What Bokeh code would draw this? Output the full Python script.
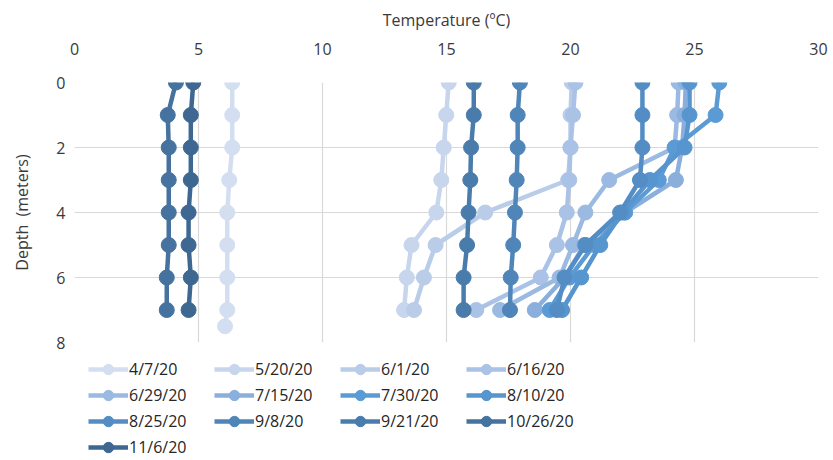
from bokeh.plotting import figure
from bokeh.models import Range1d, Legend, LegendItem, FixedTicker
from bokeh.layouts import column
from bokeh.embed import file_html
from bokeh.resources import INLINE

# ---- data ----
depth = [0, 1, 2, 3, 4, 5, 6, 7]
depth_apr = [0, 1, 2, 3, 4, 5, 6, 7, 7.5]

dates = ["4/7/20", "5/20/20", "6/1/20", "6/16/20", "6/29/20", "7/15/20", "7/30/20",
         "8/10/20", "8/25/20", "9/8/20", "9/21/20", "10/26/20", "11/6/20"]

t_0407 = [6.36, 6.36, 6.36, 6.24, 6.16, 6.16, 6.16, 6.16, 6.07]
t_0520 = [15.09, 14.99, 14.89, 14.79, 14.59, 13.59, 13.40, 13.29]
t_0601 = [20.05, 20.0, 20.0, 19.9, 16.56, 14.56, 14.09, 13.69]
t_0616 = [20.2, 20.1, 20.0, 19.95, 19.85, 19.45, 18.8, 16.2]
t_0629 = [24.36, 24.3, 24.2, 21.56, 20.6, 20.1, 19.56, 17.16]
t_0715 = [24.65, 24.6, 24.5, 24.25, 22.2, 20.56, 19.76, 18.56]
t_0730 = [26.0, 25.85, 24.2, 23.56, 22.2, 20.96, 19.96, 19.16]
t_0810 = [24.8, 24.8, 24.6, 23.2, 22.1, 21.2, 20.43, 19.66]
t_0825 = [22.9, 22.9, 22.9, 22.8, 22.0, 20.6, 19.76, 19.45]
t_0908 = [17.96, 17.87, 17.87, 17.83, 17.76, 17.69, 17.59, 17.56]
t_0921 = [16.1, 16.1, 15.99, 15.96, 15.89, 15.83, 15.69, 15.69]
t_1026 = [4.09, 3.76, 3.8, 3.8, 3.8, 3.8, 3.72, 3.72]
t_1106 = [4.79, 4.69, 4.69, 4.69, 4.6, 4.6, 4.69, 4.6]

temps = [t_0407, t_0520, t_0601, t_0616, t_0629, t_0715, t_0730,
         t_0810, t_0825, t_0908, t_0921, t_1026, t_1106]
depths = [depth_apr] + [depth] * 12

colors = ["#d3dff0", "#c7d6ec", "#b9cde9", "#a9c2e5", "#9bbae1", "#8aafdd", "#5b9bd5",
          "#5795cf", "#538dc4", "#4f85b8", "#4a7cab", "#45729f", "#3e6792"]

x_ticks = [0, 5, 10, 15, 20, 25, 30]
y_ticks = [0, 2, 4, 6, 8]

FONT = "Open Sans"
TXT = "#3a3a3a"
LW = 4.5
MS = 15

p = figure(width=833, height=352, x_range=Range1d(0, 30), y_range=Range1d(8, 0),
           x_axis_location="above", output_backend="svg", toolbar_location=None,
           min_border_left=74, min_border_right=15, min_border_top=82, min_border_bottom=10)
p.outline_line_color = None

p.xaxis.ticker = FixedTicker(ticks=x_ticks)
p.yaxis.ticker = FixedTicker(ticks=y_ticks)
for ax in (p.xaxis[0], p.yaxis[0]):
    ax.axis_line_color = None
    ax.major_tick_line_color = None
    ax.minor_tick_line_color = None
    ax.major_label_text_font = FONT
    ax.major_label_text_font_size = "16px"
    ax.major_label_text_color = TXT
    ax.axis_label_text_font = FONT
    ax.axis_label_text_font_size = "16px"
    ax.axis_label_text_font_style = "normal"
    ax.axis_label_text_color = TXT
p.xaxis.axis_label = "Temperature (\u00baC)"
p.yaxis.axis_label = "Depth\u00a0 (meters)"
p.xaxis.major_label_standoff = 22
p.xaxis.axis_label_standoff = 9
p.yaxis.major_label_standoff = 3
p.yaxis.axis_label_standoff = 20

p.xgrid.ticker = FixedTicker(ticks=x_ticks)
p.ygrid.ticker = FixedTicker(ticks=y_ticks)
p.xgrid.grid_line_color = "#d9d9d9"
p.ygrid.grid_line_color = "#d9d9d9"
p.xgrid.grid_line_width = 1.2
p.ygrid.grid_line_width = 1.2

for name, t, d, c in zip(dates, temps, depths, colors):
    p.line(t, d, line_color=c, line_width=LW)
    p.scatter(t, d, size=MS, fill_color=c, line_color=c)

# ---- legend panel below the plot: same series, view range set outside the data ----
q = figure(width=833, height=108, output_backend="svg", toolbar_location=None,
           x_range=Range1d(0, 30), y_range=Range1d(50, 60),
           x_axis_location=None, y_axis_location=None,
           min_border_left=0, min_border_right=0, min_border_top=0, min_border_bottom=0)
q.outline_line_color = None
q.xgrid.visible = False
q.ygrid.visible = False
items = []
for name, t, d, c in zip(dates, temps, depths, colors):
    r1 = q.line(t, d, line_color=c, line_width=LW)
    r2 = q.scatter(t, d, size=MS, fill_color=c, line_color=c)
    items.append(LegendItem(label=name, renderers=[r1, r2]))

legend = Legend(items=items, orientation="horizontal", ncols=4,
                location=(14, 0), glyph_width=40, glyph_height=26,
                spacing=0, label_standoff=1, label_width=85, padding=0, margin=0,
                label_text_font=FONT, label_text_font_size="16px", label_text_color="#262626",
                border_line_color=None, background_fill_alpha=0)
q.add_layout(legend, "center")

open("out.html", "w").write(file_html(column(p, q, spacing=0), INLINE))
